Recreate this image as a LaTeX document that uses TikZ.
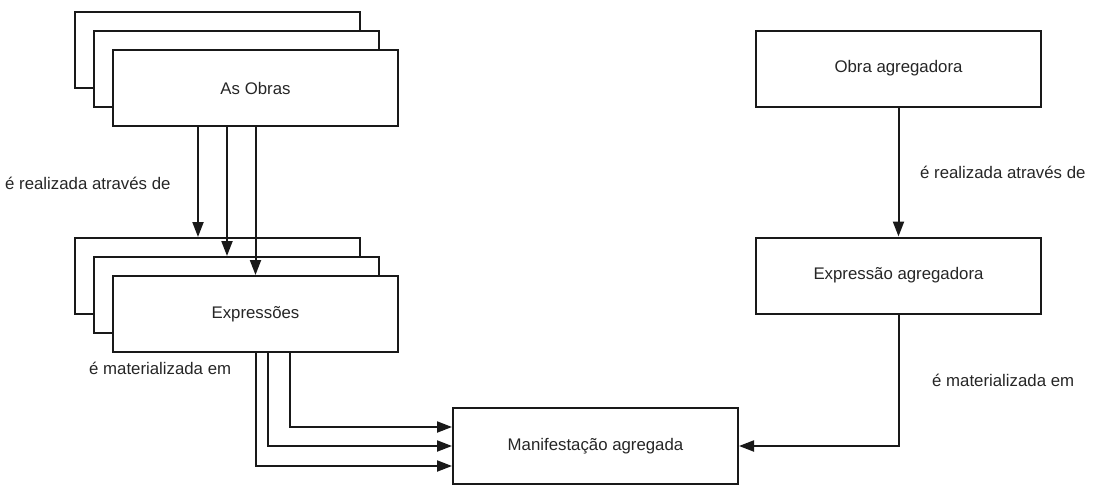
\documentclass[tikz,border=0pt]{standalone}
\usepackage{fontspec}
\setmainfont{Liberation Sans}
\usetikzlibrary{arrows.meta}
\begin{document}
\begin{tikzpicture}[x=1pt,y=-1pt,
  box/.style={draw=black!90, line width=2pt, fill=white, minimum width=285pt, minimum height=76pt, inner sep=0pt, font=\fontsize{16.8}{20}\selectfont, text=black!85},
  conn/.style={draw=black!90, line width=2pt, -{Triangle[length=15pt,width=11pt]}},
  lbl/.style={font=\fontsize{16.8}{20}\selectfont, text=black!85, inner sep=0pt}]
\useasboundingbox (0,0) rectangle (1093,485);
% As Obras stack
\node[box] (obras3) at (217.5,50) {};
\node[box] (obras2) at (236.5,69) {};
\node[box] (obras1) at (255.5,88) {As Obras};
% Expressoes stack
\node[box] (expr3) at (217.5,276) {};
\node[box] (expr2) at (236.5,295) {};
\node[box] (expr1) at (255.5,314) {Expressões};
% right column
\node[box] (oagg) at (898.5,68.5) {Obra agregadora};
\node[box] (eagg) at (898.5,275.5) {Expressão agregadora};
\node[box] (manif) at (595.5,446) {Manifestação agregada};
% labels
\node[lbl, anchor=west] (l1) at (5,183) {é realizada através de};
\node[lbl, anchor=west] (l2) at (89,368) {é materializada em};
\node[lbl, anchor=west] (l3) at (920,172) {é realizada através de};
\node[lbl, anchor=west] (l4) at (932,380) {é materializada em};
% connectors obras -> expressoes
\draw[conn] ([xshift=-57.5pt]obras1.south) -- ([xshift=-57.5pt]obras1.south |- expr3.north);
\draw[conn] ([xshift=-28.5pt]obras1.south) -- ([xshift=-28.5pt]obras1.south |- expr2.north);
\draw[conn] (obras1.south) -- (expr1.north);
% connectors expressoes -> manifestacao
\draw[conn] ([xshift=34.5pt]expr1.south) |- ([yshift=19pt]manif.west);
\draw[conn] ([xshift=12pt]expr1.south) |- (manif.west);
\draw[conn] ([xshift=0.5pt]expr1.south) |- ([yshift=-20pt]manif.west);
% right connectors
\draw[conn] (oagg.south) -- (eagg.north);
\draw[conn] (eagg.south) |- (manif.east);
\end{tikzpicture}
\end{document}
